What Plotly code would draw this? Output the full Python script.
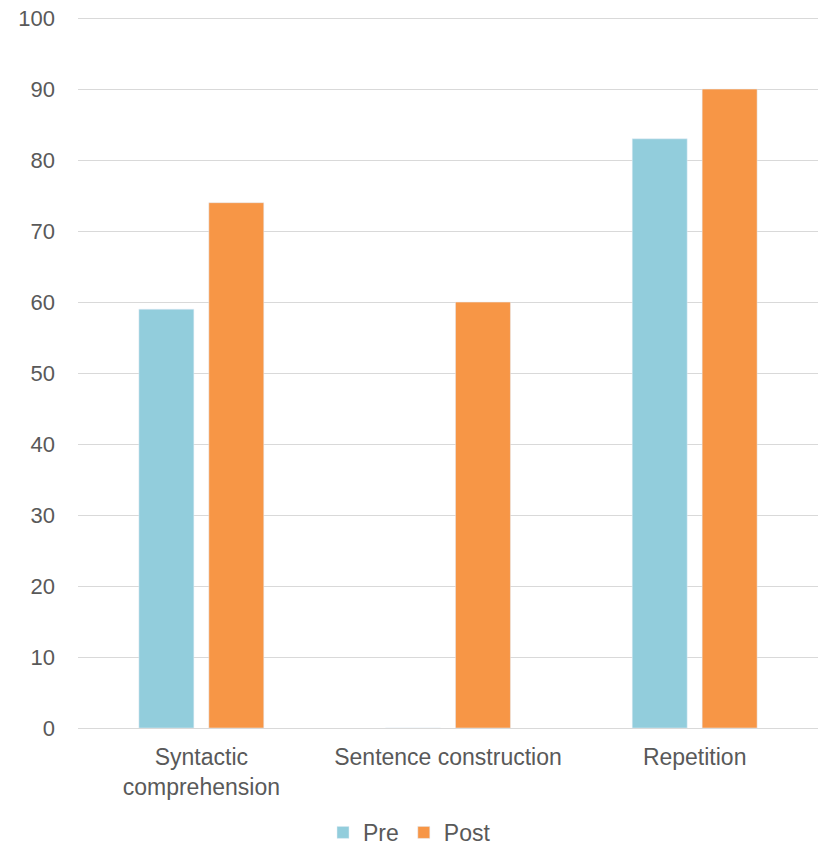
import plotly.graph_objects as go

categories = ["Syntactic<br>comprehension", "Sentence construction", "Repetition"]
pre_values = [59, 0, 83]
post_values = [74, 60, 90]
y_ticks = list(range(0, 101, 10))

fig = go.Figure()
fig.add_trace(go.Bar(name="Pre", x=categories, y=pre_values, marker_color="#92CDDC"))
fig.add_trace(go.Bar(name="Post", x=categories, y=post_values, marker_color="#F79646"))

fig.update_layout(
    width=819,
    height=846,
    margin=dict(l=78, r=1, t=16, b=118, autoexpand=False),
    paper_bgcolor="white",
    plot_bgcolor="white",
    font=dict(family="Liberation Sans, Arial, sans-serif", size=23, color="#595959"),
    barmode="group",
    bargap=0.433,
    bargroupgap=0.214,
    showlegend=True,
    legend=dict(
        orientation="h",
        x=0.5,
        xref="container",
        xanchor="center",
        y=0.016,
        yref="container",
        yanchor="middle",
        font=dict(size=23, color="#595959"),
        itemwidth=30,
        traceorder="normal",
    ),
    xaxis=dict(
        showgrid=False,
        showline=False,
        ticks="",
        ticklabelstandoff=13,
        tickfont=dict(size=23),
    ),
    yaxis=dict(
        range=[0, 100.3],
        tickvals=y_ticks,
        showgrid=True,
        gridcolor="#D9D9D9",
        gridwidth=1,
        zeroline=True,
        zerolinecolor="#D9D9D9",
        zerolinewidth=1,
        ticks="",
        ticklabelstandoff=22,
        tickfont=dict(size=22),
    ),
)

fig.write_html("out.html")
